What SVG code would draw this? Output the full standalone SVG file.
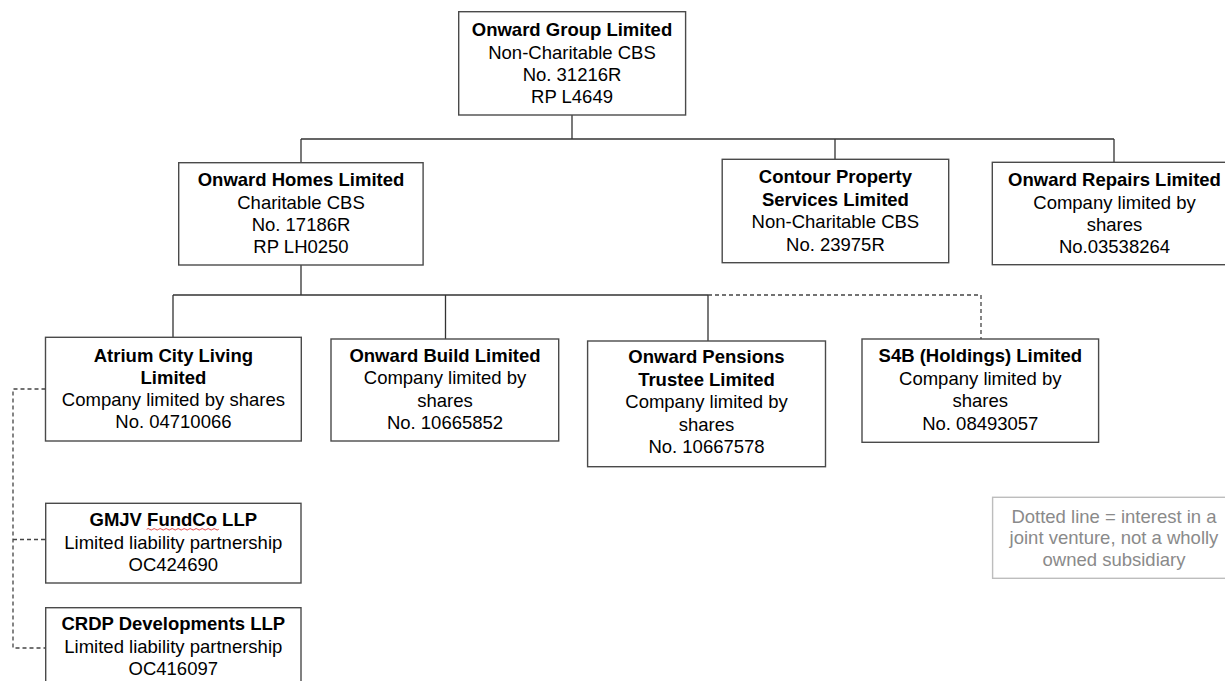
<svg xmlns="http://www.w3.org/2000/svg" width="1225" height="681" viewBox="0 0 1225 681">
<style>
.box{fill:#fff;stroke:#4a4a4a;stroke-width:1.4}
.lg{fill:#fff;stroke:#bdbdbd;stroke-width:1.4}
text{font-family:"Liberation Sans",Arial,sans-serif;font-size:18.5px;fill:#000;text-anchor:middle}
.b{font-weight:bold}
.g{fill:#8a8a8a}
.c{fill:none;stroke:#333;stroke-width:1.3}
.d{fill:none;stroke:#444;stroke-width:1.3;stroke-dasharray:4 3}
</style>
<rect width="1225" height="681" fill="#fff"/>
<g id="connectors">
<path class="c" d="M572 115V139M301 139H1114M301 139V163M835 139V159M1114 139V162"/>
<path class="c" d="M301 265V295M173 295H708M173 295V337M445.5 295V339M708 295V341"/>
<path class="d" d="M708 295H981V339"/>
<path class="d" d="M45.5 389H13V648H45.5M13 539.5H45.5"/>
</g>
<g id="onward-group">
<rect class="box" x="458.7" y="11.7" width="226.9" height="103.3"/>
<text x="572" y="36" class="b">Onward Group Limited</text>
<text x="572" y="58.5">Non-Charitable CBS</text>
<text x="572" y="81">No. 31216R</text>
<text x="572" y="103.4">RP L4649</text>
</g>
<g id="onward-homes">
<rect class="box" x="178.7" y="162.7" width="244.4" height="102.3"/>
<text x="301" y="186" class="b">Onward Homes Limited</text>
<text x="301" y="208.7">Charitable CBS</text>
<text x="301" y="231">No. 17186R</text>
<text x="301" y="253.3">RP LH0250</text>
</g>
<g id="contour">
<rect class="box" x="722.2" y="159.3" width="226.5" height="103.4"/>
<text x="835.4" y="183.3" class="b">Contour Property</text>
<text x="835.4" y="206" class="b">Services Limited</text>
<text x="835.4" y="228.3">Non-Charitable CBS</text>
<text x="835.4" y="250.7">No. 23975R</text>
</g>
<g id="onward-repairs">
<rect class="box" x="992.3" y="162.3" width="244" height="102.4"/>
<text x="1114.5" y="186" class="b">Onward Repairs Limited</text>
<text x="1114.5" y="209">Company limited by</text>
<text x="1114.5" y="230.7">shares</text>
<text x="1114.5" y="253">No.03538264</text>
</g>
<g id="atrium">
<rect class="box" x="45.5" y="337.3" width="255.8" height="103.7"/>
<text x="173.4" y="361.7" class="b">Atrium City Living</text>
<text x="173.4" y="384" class="b">Limited</text>
<text x="173.4" y="406">Company limited by shares</text>
<text x="173.4" y="428.3">No. 04710066</text>
</g>
<g id="onward-build">
<rect class="box" x="331" y="339" width="227.7" height="102"/>
<text x="445" y="361.7" class="b">Onward Build Limited</text>
<text x="445" y="384">Company limited by</text>
<text x="445" y="406.7">shares</text>
<text x="445" y="429">No. 10665852</text>
</g>
<g id="onward-pensions">
<rect class="box" x="587.6" y="341" width="237.9" height="125.7"/>
<text x="706.5" y="363.3" class="b">Onward Pensions</text>
<text x="706.5" y="386" class="b">Trustee Limited</text>
<text x="706.5" y="408.3">Company limited by</text>
<text x="706.5" y="430.7">shares</text>
<text x="706.5" y="453.3">No. 10667578</text>
</g>
<g id="s4b">
<rect class="box" x="862" y="339" width="236.6" height="103.3"/>
<text x="980.3" y="362.3" class="b">S4B (Holdings) Limited</text>
<text x="980.3" y="385">Company limited by</text>
<text x="980.3" y="407.3">shares</text>
<text x="980.3" y="430">No. 08493057</text>
</g>
<g id="gmjv">
<rect class="box" x="45.7" y="503.3" width="255.3" height="79.7"/>
<text x="173.3" y="525.7" class="b">GMJV FundCo LLP</text>
<path d="M146.7 529.3q1.5 -1.5 3 0t3 0t3 0t3 0t3 0t3 0t3 0t3 0t3 0t3 0t3 0t3 0t3 0t3 0t3 0t3 0t3 0t3 0t3 0t3 0t3 0t3 0t3 0t3 0" fill="none" stroke="#e03030" stroke-width="0.9"/>
<text x="173.3" y="549.3">Limited liability partnership</text>
<text x="173.3" y="571">OC424690</text>
</g>
<g id="crdp">
<rect class="box" x="45.7" y="607.7" width="255.3" height="85"/>
<text x="173.3" y="630" class="b">CRDP Developments LLP</text>
<text x="173.3" y="653.3">Limited liability partnership</text>
<text x="173.3" y="675">OC416097</text>
</g>
<g id="legend">
<rect class="lg" x="992.6" y="497.3" width="243" height="81"/>
<text x="1114" y="522.7" class="g">Dotted line = interest in a</text>
<text x="1114" y="544.3" class="g">joint venture, not a wholly</text>
<text x="1114" y="566" class="g">owned subsidiary</text>
</g>
</svg>
